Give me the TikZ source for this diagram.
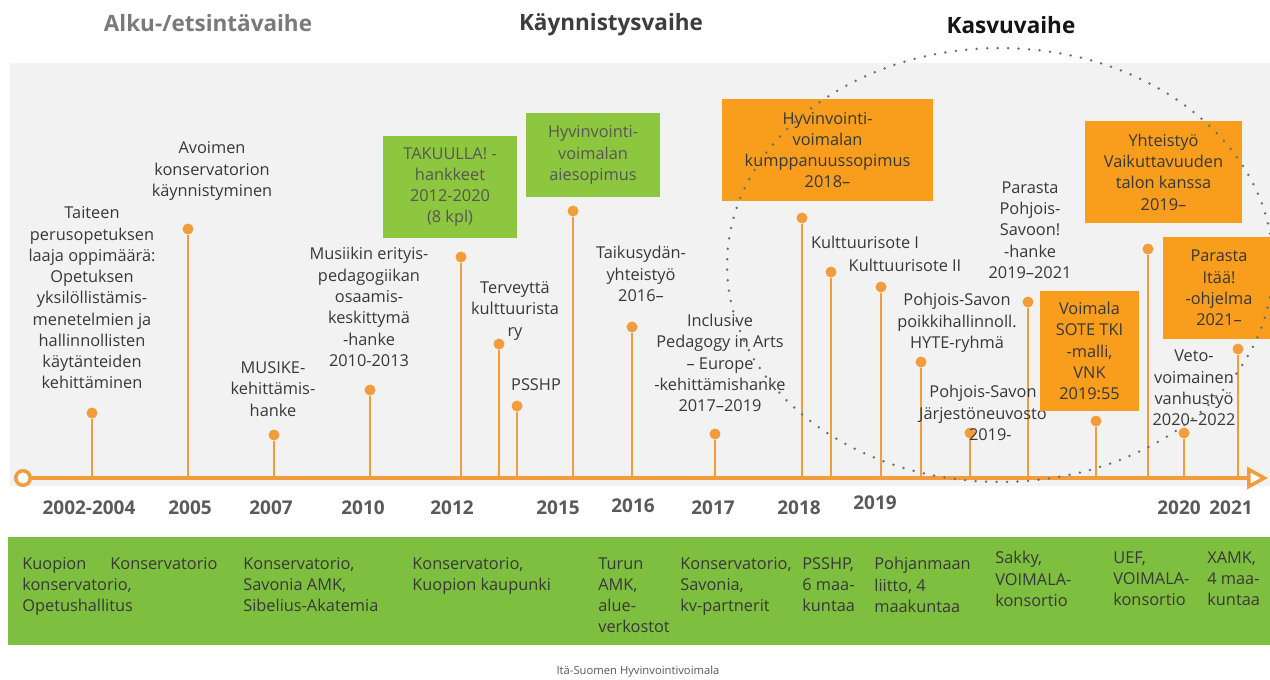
\documentclass[tikz,border=0pt]{standalone}
\usepackage{fontspec}
\setmainfont{Open Sans}
\usetikzlibrary{arrows.meta}
\definecolor{lineorange}{HTML}{F39C3C}
\definecolor{boxorange}{HTML}{F99D1C}
\definecolor{boxgreen}{HTML}{8DC63F}
\definecolor{bandgreen}{HTML}{7FBF3F}
\definecolor{panelgray}{HTML}{F2F2F2}
\definecolor{txt}{HTML}{383838}
\definecolor{yeargray}{HTML}{5A5A5A}
\definecolor{ringgray}{HTML}{6E6E6E}

\begin{document}
\begin{tikzpicture}[x=0.02cm,y=-0.02cm,
  eventtext/.style={align=center,inner sep=0pt,text=txt,font=\fontsize{9.3}{12.1}\selectfont},
  bandtext/.style={align=left,anchor=north west,inner sep=0pt,text=txt,font=\fontsize{9.3}{12.1}\selectfont},
  year/.style={inner sep=0pt,text=yeargray,font=\fontsize{10.8}{12}\selectfont\bfseries},
  phase/.style={inner sep=0pt,font=\fontsize{12.8}{15}\selectfont\bfseries},
  stemdot/.style={circle,fill=lineorange,inner sep=0pt,minimum size=0.22cm},
  stemline/.style={draw=lineorange,line width=0.05cm},
  orangebox/.style={rectangle,fill=boxorange,align=center,inner sep=0pt,text=txt,font=\fontsize{9.3}{12.1}\selectfont},
  greenbox/.style={rectangle,fill=boxgreen,align=center,inner sep=0pt,text=txt!85,font=\fontsize{9.3}{12.1}\selectfont},
  timeline/.style={draw=lineorange,line width=0.07cm,-{Triangle[length=0.42cm,width=0.44cm,fill=white,line width=0.07cm]}},
  ring/.style={draw=ringgray,line width=0.055cm,line cap=round,dash pattern=on 0pt off 0.21cm}]
  \useasboundingbox[fill=white] (0,0) rectangle (1270,679);
  \fill[panelgray] (10,63) rectangle (1275,486);
  \fill[bandgreen] (8,537) rectangle (1275,645);

  % phases
  \node[phase,text=black!52] (ph1) at (208,23) {Alku-/etsintävaihe};
  \node[phase,text=black!76] (ph2) at (611,25) {Käynnistysvaihe};
  \node[phase,text=black!92] (ph3) at (1011,25) {Kasvuvaihe};

  % points on the time axis
  \coordinate (b1) at (92,478);   \node[stemdot] (p1) at (92,413) {};
  \coordinate (b2) at (188,478);  \node[stemdot] (p2) at (188,229) {};
  \coordinate (b3) at (274,478);  \node[stemdot] (p3) at (274,435) {};
  \coordinate (b4) at (370,478);  \node[stemdot] (p4) at (370,390) {};
  \coordinate (b5) at (461,478);  \node[stemdot] (p5) at (461,257) {};
  \coordinate (b6) at (499,478);  \node[stemdot] (p6) at (499,344) {};
  \coordinate (b7) at (517,478);  \node[stemdot] (p7) at (517,406) {};
  \coordinate (b8) at (573,478);  \node[stemdot] (p8) at (573,211) {};
  \coordinate (b9) at (632,478);  \node[stemdot] (p9) at (632,327) {};
  \coordinate (b10) at (715,478); \node[stemdot] (p10) at (715,434) {};
  \coordinate (b11) at (802,478); \node[stemdot] (p11) at (802,218) {};
  \coordinate (b12) at (831,478); \node[stemdot] (p12) at (831,272) {};
  \coordinate (b13) at (881,478); \node[stemdot] (p13) at (881,287) {};
  \coordinate (b14) at (921,478); \node[stemdot] (p14) at (921,362) {};
  \coordinate (b15) at (970,478); \node[stemdot] (p15) at (970,433) {};
  \coordinate (b16) at (1028,478); \node[stemdot] (p16) at (1028,302) {};
  \coordinate (b17) at (1096,478); \node[stemdot] (p17) at (1096,421) {};
  \coordinate (b18) at (1148,478); \node[stemdot] (p18) at (1148,249) {};
  \coordinate (b19) at (1184,478); \node[stemdot] (p19) at (1184,433) {};
  \coordinate (b20) at (1238,478); \node[stemdot] (p20) at (1238,349) {};

\path[stemline]
  (b1) edge (p1)   (b2) edge (p2)   (b3) edge (p3)   (b4) edge (p4)
  (b5) edge (p5)   (b6) edge (p6)   (b7) edge (p7)   (b8) edge (p8)
  (b9) edge (p9)   (b10) edge (p10) (b11) edge (p11) (b12) edge (p12)
  (b13) edge (p13) (b14) edge (p14) (b15) edge (p15) (b16) edge (p16)
  (b17) edge (p17) (b18) edge (p18) (b19) edge (p19) (b20) edge (p20)
;

  % axis
  \node[circle,draw=lineorange,fill=white,line width=0.07cm,inner sep=0pt,minimum size=0.29cm] (start) at (23,478) {};
  \coordinate (end) at (1268,478);
  \draw[timeline] (start) -- (end);

  % events
  \node[eventtext] (t1) at (92,298) {Taiteen\\perusopetuksen\\laaja oppimäärä:\\Opetuksen\\yksilöllistämis-\\menetelmien ja\\hallinnollisten\\käytänteiden\\kehittäminen};
  \node[eventtext] (t2) at (212,171) {Avoimen\\konservatorion\\käynnistyminen};
  \node[eventtext] (t3) at (273,389) {MUSIKE-\\kehittämis-\\hanke};
  \node[eventtext] (t4) at (369,307) {Musiikin erityis-\\pedagogiikan\\osaamis-\\keskittymä\\-hanke\\2010-2013};
  \node[greenbox,minimum width=2.68cm,minimum height=2.04cm] (t5) at (450,187) {TAKUULLA! -\\hankkeet\\2012-2020\\(8 kpl)};
  \node[eventtext] (t6) at (515,311) {Terveyttä\\kulttuurista\\ry};
  \node[eventtext] (t7) at (536,385) {PSSHP};
  \node[greenbox,minimum width=2.68cm,minimum height=1.68cm] (t8) at (593,155) {Hyvinvointi-\\voimalan\\aiesopimus};
  \node[eventtext] (t9) at (641,274) {Taikusydän-\\yhteistyö\\2016–};
  \node[eventtext] (t10) at (720,363) {Inclusive\\Pedagogy in Arts\\– Europe\\-kehittämishanke\\2017–2019};
  \node[orangebox,minimum width=4.22cm,minimum height=2.06cm] (t11) at (827.5,150) {Hyvinvointi-\\voimalan\\kumppanuussopimus\\2018–};
  \node[eventtext] (t12) at (865,242) {Kulttuurisote I};
  \node[eventtext] (t13) at (905,265) {Kulttuurisote II};
  \node[eventtext] (t14) at (957,323) {Pohjois-Savon\\poikkihallinnoll.\\HYTE-ryhmä};
  \node[eventtext] (t15) at (983,413) {Pohjois-Savon\\Järjestöneuvosto\\\hspace*{0.9em}2019-};
  \node[eventtext] (t16) at (1030,230) {Parasta\\Pohjois-\\Savoon!\\-hanke\\2019–2021};
  \node[orangebox,minimum width=1.98cm,minimum height=2.4cm] (t17) at (1089.5,351) {Voimala\\SOTE TKI\\-malli,\\VNK\\2019:55};
  \node[orangebox,minimum width=3.14cm,minimum height=2.06cm] (t18) at (1163.5,172) {Yhteistyö\\Vaikuttavuuden\\talon kanssa\\2019–};
  \node[eventtext] (t19) at (1194,388) {Veto-\\voimainen\\vanhustyö\\2020–2022};
  \node[orangebox,minimum width=2.24cm,minimum height=2.06cm] (t20) at (1219,288) {Parasta\\Itää!\\-ohjelma\\2021–};

  % years
  \node[year] (y1) at (89,508) {2002-2004};
  \node[year] (y2) at (190,508) {2005};
  \node[year] (y3) at (271,508) {2007};
  \node[year] (y4) at (363,508) {2010};
  \node[year] (y5) at (452,508) {2012};
  \node[year] (y6) at (558,508) {2015};
  \node[year] (y7) at (633,506) {2016};
  \node[year] (y8) at (713,508) {2017};
  \node[year] (y9) at (799,508) {2018};
  \node[year] (y10) at (875,503) {2019};
  \node[year] (y11) at (1179,508) {2020};
  \node[year] (y12) at (1231,508) {2021};

  % partners
  \node[bandtext] (a1) at (22,557) {Kuopion\\konservatorio,\\Opetushallitus};
  \node[bandtext] (a2) at (110,557) {Konservatorio};
  \node[bandtext] (a3) at (243,557) {Konservatorio,\\Savonia AMK,\\Sibelius-Akatemia};
  \node[bandtext] (a4) at (412,557) {Konservatorio,\\Kuopion kaupunki};
  \node[bandtext] (a5) at (598,557) {Turun\\AMK,\\alue-\\verkostot};
  \node[bandtext] (a6) at (680,557) {Konservatorio,\\Savonia,\\kv-partnerit};
  \node[bandtext] (a7) at (802,557) {PSSHP,\\6 maa-\\kuntaa};
  \node[bandtext] (a8) at (874,557) {Pohjanmaan\\liitto, 4\\maakuntaa};
  \node[bandtext] (a9) at (995,551) {Sakky,\\VOIMALA-\\konsortio};
  \node[bandtext] (a10) at (1113,551) {UEF,\\VOIMALA-\\konsortio};
  \node[bandtext] (a11) at (1207,551) {XAMK,\\4 maa-\\kuntaa};

  \node[inner sep=0pt,text=black!65,font=\fontsize{6.4}{8}\selectfont] (src) at (638,672) {Itä-Suomen Hyvinvointivoimala};

  % growth phase ring
  \draw[ring] (1000,265) ellipse [x radius=5.46cm,y radius=4.34cm];
\end{tikzpicture}
\end{document}
